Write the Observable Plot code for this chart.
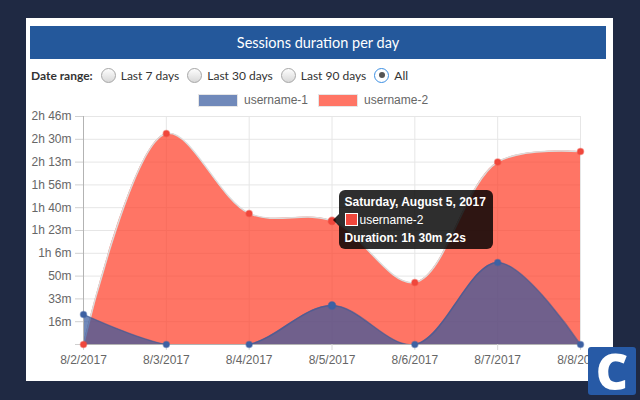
<!DOCTYPE html>
<html><head><meta charset="utf-8">
<script src="https://cdn.jsdelivr.net/npm/d3@7"></script>
<script src="https://cdn.jsdelivr.net/npm/@observablehq/plot@0.6"></script>
<style>
html,body{margin:0;padding:0;}
body{width:640px;height:400px;background:#1f2943;position:relative;overflow:hidden;font-family:"Liberation Sans",Arial,sans-serif;}
#panel{position:absolute;left:26px;top:18px;width:587px;height:363px;background:#fff;overflow:hidden;}
#title{position:absolute;left:4px;top:8px;width:576px;height:33px;background:#24589b;color:#fff;font-family:Lato,sans-serif;font-size:14.5px;line-height:33px;text-align:center;}
#range{position:absolute;left:5px;top:49px;height:16px;display:flex;align-items:center;font-family:Lato,sans-serif;font-size:12px;color:#333;white-space:nowrap;}
#range b{margin-right:8px;}
.rb{display:inline-block;width:13px;height:13px;border-radius:50%;border:1px solid #a6a6a6;background:linear-gradient(#fdfdfd,#d8d8d8);margin-right:5px;box-sizing:content-box;position:relative;}
.rb.on{border-color:#3c8fe3;background:#fff;}
.rb.on::after{content:"";position:absolute;left:3.5px;top:3.5px;width:6px;height:6px;border-radius:50%;background:#555;}
.opt{margin-right:8px;}
#legend{position:absolute;left:172px;top:75px;display:flex;align-items:center;font-size:12px;color:#666;white-space:nowrap;}
.sw{display:inline-block;width:38px;height:11px;margin-right:6px;border:1px solid #e6e6e6;}
#chart{position:absolute;left:0;top:90px;}
#tip{position:absolute;background:rgba(0,0,0,0.82);color:#fff;border-radius:6px;font-size:12px;padding:3px 7px 2px 6px;white-space:nowrap;line-height:18px;}
#tip::before{content:"";position:absolute;left:-6px;top:24px;border-top:6px solid transparent;border-bottom:6px solid transparent;border-right:6px solid rgba(0,0,0,0.82);}
#tip .sq{display:inline-block;width:11px;height:11px;border:1px solid #fff;vertical-align:-2px;margin-right:2px;}
#logo{position:absolute;left:588px;top:347px;width:48px;height:48px;background:#275aa6;border-radius:3px;color:#fff;font-family:"Open Sans",sans-serif;font-weight:800;font-size:50px;line-height:48px;text-align:center;overflow:hidden;}
</style></head>
<body>
<div id="panel">
  <div id="title"></div>
  <div id="range"></div>
  <div id="legend"></div>
  <div id="chart"></div>
</div>
<div id="logo">C</div>
<script>
const titleText = "Sessions duration per day";
const rangeLabel = "Date range:";
const rangeOptions = ["Last 7 days", "Last 30 days", "Last 90 days", "All"];
const rangeSelected = "All";
const dates = ["2017-08-02","2017-08-03","2017-08-04","2017-08-05","2017-08-06","2017-08-07","2017-08-08"];
const seriesNames = ["username-1", "username-2"];
const user1 = [1320, 0, 0, 1710, 0, 3600, 0];      // seconds
const user2 = [0, 9250, 5750, 5422, 2720, 8000, 8460]; // seconds
const yTicks = [0,1000,2000,3000,4000,5000,6000,7000,8000,9000,10000];
const legendColors = ["rgba(51,87,156,0.7)", "rgba(255,58,36,0.7)"];
const hoverIndex = 3;
const hoverSeries = 1;
const tipDateText = "Saturday, August 5, 2017";

document.getElementById("title").textContent = titleText;
const range = document.getElementById("range");
range.innerHTML = `<b>${rangeLabel}</b>` + rangeOptions.map(o =>
  `<span class="rb${o===rangeSelected?" on":""}"></span><span class="opt">${o}</span>`).join("");
document.getElementById("legend").innerHTML = seriesNames.map((n,i) =>
  `<span class="sw" style="background:${legendColors[i]}"></span><span style="margin-right:10px">${n}</span>`).join("");

const parse = d3.utcParse("%Y-%m-%d");
const xs = dates.map(parse);
const d1 = xs.map((d,i) => ({date: d, v: user1[i]}));
const d2 = xs.map((d,i) => ({date: d, v: user2[i]}));

function fmtDur(s){
  if (s === 0) return "";
  const m = Math.floor(s/60), h = Math.floor(m/60), mm = m % 60;
  return h ? `${h}h ${mm}m` : `${mm}m`;
}
function fmtFull(s){
  const h = Math.floor(s/3600), m = Math.floor((s%3600)/60), ss = s % 60;
  return `${h}h ${m}m ${ss}s`;
}
const curve = "catmull-rom";
const chart = Plot.plot({
  width: 587, height: 273,
  marginLeft: 57, marginRight: 33, marginTop: 8, marginBottom: 37,
  style: {fontFamily: "Liberation Sans, Arial, sans-serif", fontSize: "12px", color: "#666", background: "transparent", overflow: "visible"},
  x: {type: "utc", domain: [xs[0], xs[xs.length-1]], label: null},
  y: {domain: [0, 10000], label: null},
  marks: [
    Plot.gridY(yTicks, {stroke: "#e6e6e6", strokeOpacity: 1}),
    Plot.gridX(xs, {stroke: "#e6e6e6", strokeOpacity: 1}),
    Plot.areaY(d2, {x: "date", y: "v", curve, fill: legendColors[1], fillOpacity: 1, clip: true}),
    Plot.lineY(d2, {x: "date", y: "v", curve, stroke: "#dcdcdc", strokeWidth: 1.5, clip: true}),
    Plot.areaY(d1, {x: "date", y: "v", curve, fill: legendColors[0], fillOpacity: 1, clip: true}),
    Plot.lineY(d1, {x: "date", y: "v", curve, stroke: "rgba(60,90,150,0.6)", strokeWidth: 1.5, clip: true}),
    Plot.ruleX([xs[0]], {stroke: "#b3b3b3"}),
    Plot.ruleY([0], {stroke: "#b3b3b3"}),
    Plot.axisY({ticks: yTicks, tickFormat: fmtDur, tickSize: 8, tickPadding: 4, stroke: "#d0d0d0", fill: "#666"}),
    Plot.axisX({ticks: xs, tickFormat: d3.utcFormat("%-m/%-d/%Y"), tickSize: 6, tickPadding: 5, stroke: "#d8d8d8", fill: "#666"}),
    Plot.dot(d2, {x: "date", y: "v", r: (d,i) => i===hoverIndex ? 4.5 : 3, fill: "#f0473c", stroke: "#f0473c", strokeOpacity: 0.5}),
    Plot.dot(d1, {x: "date", y: "v", r: (d,i) => i===hoverIndex ? 4.5 : 3, fill: "#3d61a3", stroke: "#3d61a3", strokeOpacity: 0.5})
  ]
});
document.getElementById("chart").appendChild(chart);

// tooltip positioned via the chart's scales
const sx = chart.scale("x"), sy = chart.scale("y");
const hv = (hoverSeries === 1 ? user2 : user1)[hoverIndex];
const px = sx.apply(xs[hoverIndex]);
const py = sy.apply(hv) + 90;
const tip = document.createElement("div");
tip.id = "tip";
tip.innerHTML = `<b>${tipDateText}</b><br><span class="sq" style="background:#f0473c"></span>${seriesNames[hoverSeries]}<br><b>Duration: ${fmtFull(hv)}</b>`;
tip.style.left = (px + 7) + "px";
tip.style.top = (py - 30) + "px";
document.getElementById("panel").appendChild(tip);
</script>
</body></html>
